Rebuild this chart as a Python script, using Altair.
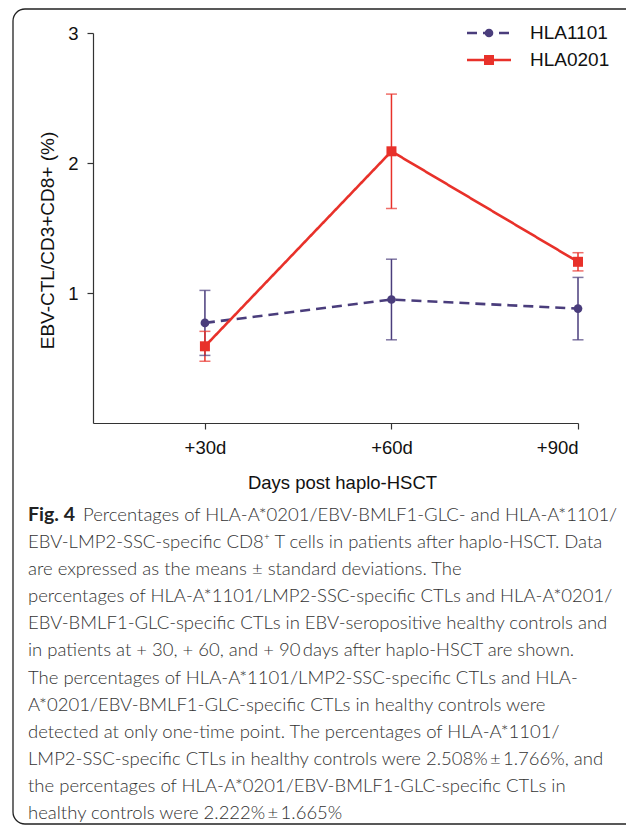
import altair as alt
import pandas as pd

# ---- data ----
days = [30, 60, 90]
series = ["HLA1101", "HLA0201"]
hla1101_mean = [0.77, 0.95, 0.88]
hla1101_sd = [0.25, 0.31, 0.24]
hla0201_mean = [0.59, 2.09, 1.24]
hla0201_sd = [0.115, 0.44, 0.07]

y_ticks = [1, 2, 3]
x_title = "Days post haplo-HSCT"
y_title = "EBV-CTL/CD3+CD8+ (%)"

caption_bold = "Fig. 4"
caption_first = "Percentages of HLA-A*0201/EBV-BMLF1-GLC- and HLA-A*1101/"
caption_lines = [
    "EBV-LMP2-SSC-specific CD8\u207a T cells in patients after haplo-HSCT. Data",
    "are expressed as the means \u00b1 standard deviations. The",
    "percentages of HLA-A*1101/LMP2-SSC-specific CTLs and HLA-A*0201/",
    "EBV-BMLF1-GLC-specific CTLs in EBV-seropositive healthy controls and",
    "in patients at + 30, + 60, and + 90\u2009days after haplo-HSCT are shown.",
    "The percentages of HLA-A*1101/LMP2-SSC-specific CTLs and HLA-",
    "A*0201/EBV-BMLF1-GLC-specific CTLs in healthy controls were",
    "detected at only one-time point. The percentages of HLA-A*1101/",
    "LMP2-SSC-specific CTLs in healthy controls were 2.508%\u2009\u00b1\u20091.766%, and",
    "the percentages of HLA-A*0201/EBV-BMLF1-GLC-specific CTLs in",
    "healthy controls were 2.222%\u2009\u00b1\u20091.665%",
]

colors = ["#4a3d7c", "#e8312a"]

rows = []
for s, means, sds in [("HLA1101", hla1101_mean, hla1101_sd), ("HLA0201", hla0201_mean, hla0201_sd)]:
    for d, m, sd in zip(days, means, sds):
        rows.append({"series": s, "day": d, "mean": m, "lo": m - sd, "hi": m + sd})
df = pd.DataFrame(rows)

W, H = 485, 390
FONT = "Liberation Sans"
LINE_H = 27.1

xscale = alt.Scale(domain=[12, 90], nice=False, zero=False)
yscale = alt.Scale(domain=[0, 3], nice=False)

xaxis = alt.Axis(values=days, labelExpr="'+' + datum.value + 'd'", grid=False,
                 title=x_title, titleFontSize=18.5, titleFontWeight="normal",
                 titleFont=FONT, titleX=249, titleY=59, titleBaseline="middle",
                 labelFontSize=18.5, labelFont=FONT, labelPadding=9,
                 tickSize=6, domainColor="#333", tickColor="#333", domainWidth=1.2, tickWidth=1.2,
                 labelColor="#111", titleColor="#111")
yaxis = alt.Axis(values=y_ticks, grid=False, title=y_title, titleFontSize=19,
                 titleFontWeight="normal", titleFont=FONT, titleAngle=270,
                 titleX=-46, titleY=207, titleAlign="center", titleBaseline="middle",
                 labelFontSize=18.5, labelFont=FONT, labelPadding=9, tickSize=6,
                 domainColor="#333", tickColor="#333", domainWidth=1.2, tickWidth=1.2,
                 labelColor="#111", titleColor="#111")

x = alt.X("day:Q", scale=xscale, axis=xaxis)
y = alt.Y("mean:Q", scale=yscale, axis=yaxis)
y_lo = alt.Y("lo:Q", scale=yscale, axis=yaxis)
y_hi = alt.Y("hi:Q", scale=yscale, axis=yaxis)
color = alt.Color("series:N", scale=alt.Scale(domain=series, range=colors), legend=None)
dash = alt.StrokeDash("series:N", scale=alt.Scale(domain=series, range=[[10, 6], [1, 0]]), legend=None)
shape = alt.Shape("series:N", scale=alt.Scale(domain=series, range=["circle", "square"]), legend=None)
size = alt.Size("series:N", scale=alt.Scale(domain=series, range=[75, 100]), legend=None)

base = alt.Chart(df)

err = base.mark_rule(strokeWidth=1.5).encode(x=x, y=y_lo, y2="hi:Q", color=color)
cap_lo = base.mark_tick(orient="horizontal", size=11, thickness=1.5).encode(x=x, y=y_lo, color=color)
cap_hi = base.mark_tick(orient="horizontal", size=11, thickness=1.5).encode(x=x, y=y_hi, color=color)
lines = base.mark_line(strokeWidth=2.6).encode(x=x, y=y, color=color, strokeDash=dash)
pts = base.mark_point(filled=True, opacity=1).encode(x=x, y=y, color=color, shape=shape, size=size)

# manual legend (one row per series)
leg_df = pd.DataFrame({"series": series})
legend_layers = []
for i, s in enumerate(series):
    ly = alt.value(i * 27)
    lc = alt.Chart(leg_df).transform_filter(alt.datum.series == s)
    legend_layers += [
        lc.mark_rule(strokeWidth=2.6).encode(x=alt.value(374), x2=alt.value(418), y=ly,
                                             color=color, strokeDash=dash),
        lc.mark_point(filled=True, opacity=1).encode(x=alt.value(396), y=ly, color=color,
                                                     shape=shape, size=size),
        lc.mark_text(align="left", baseline="middle", fontSize=19, font=FONT, color="#111").encode(
            x=alt.value(437), y=ly, text="series:N"),
    ]

# caption
CAP_FONT = "Lato"
CAP_SIZE = 18.5
bold_txt = alt.Chart(pd.DataFrame({"text": [caption_bold]})).mark_text(
    align="left", baseline="middle", fontSize=19.5, font=CAP_FONT, fontWeight="bold", color="#222",
).encode(x=alt.value(-65), y=alt.value(482), text="text:N")
first_txt = alt.Chart(pd.DataFrame({"text": [caption_first]})).mark_text(
    align="left", baseline="middle", fontSize=CAP_SIZE, font=CAP_FONT, fontWeight=300, color="#333",
).encode(x=alt.value(-10), y=alt.value(482), text="text:N")
cap_txt = alt.Chart(pd.DataFrame({"text": ["\n".join(caption_lines)]})).mark_text(
    align="left", baseline="middle", fontSize=CAP_SIZE, font=CAP_FONT, fontWeight=300, color="#333",
    lineBreak="\n", lineHeight=LINE_H,
).encode(x=alt.value(-65), y=alt.value(482 + LINE_H), text="text:N")

border = alt.Chart(pd.DataFrame({"a": [0]})).mark_rect(
    fill=None, stroke="#222", strokeWidth=1.3, cornerRadius=12,
).encode(x=alt.value(-80), x2=alt.value(560), y=alt.value(-24), y2=alt.value(791))

chart = alt.layer(
    border, err, cap_lo, cap_hi, lines, pts, *legend_layers, bold_txt, first_txt, cap_txt
).properties(
    width=W, height=H,
    autosize=alt.AutoSizeParams(type="none"),
    padding={"left": 85, "top": 25, "right": 48, "bottom": 402},
).configure_view(strokeWidth=0, stroke="transparent", strokeOpacity=0).configure(
    background="white", style={"cell": {"stroke": "transparent", "strokeWidth": 0}}
)

chart.save("out.html", embed_options={"renderer": "svg", "actions": False})
